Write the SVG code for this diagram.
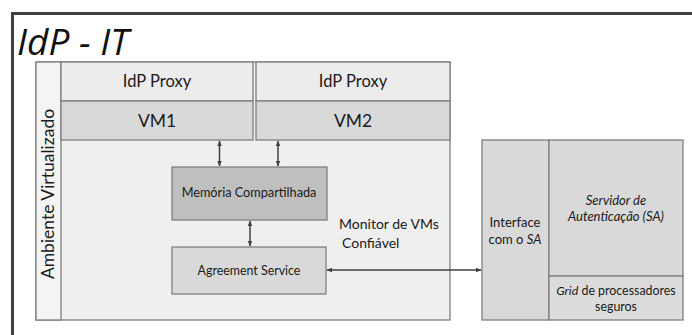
<svg xmlns="http://www.w3.org/2000/svg" width="692" height="335" viewBox="0 0 692 335">
<style>
.t{font-family:"Lato","Open Sans","Liberation Sans",sans-serif;fill:#1a1a1a;text-anchor:middle}
.s{text-anchor:start}
.box{stroke:#7f7f7f;stroke-width:1.3}
.ar{stroke:#404040;stroke-width:1.5;fill:none;marker-start:url(#ah);marker-end:url(#ah)}
</style>
<defs>
<marker id="ah" viewBox="0 0 10 10" refX="9" refY="5" markerWidth="6" markerHeight="6" orient="auto-start-reverse" markerUnits="userSpaceOnUse">
<path d="M0,1 L10,5 L0,9 z" fill="#404040"/>
</marker>
</defs>
<rect width="692" height="335" fill="#ffffff"/>
<g id="frame">
<path d="M12.5,340 V13.5 H700" fill="none" stroke="#404040" stroke-width="3"/>
<text x="17" y="55" font-family="'Open Sans',Lato,sans-serif" font-style="italic" font-size="37" fill="#111">IdP - IT</text>
</g>
<g id="ambiente">
<rect class="box" x="36" y="62" width="414" height="258" fill="#efefef"/>
<rect class="box" x="36" y="62" width="25" height="258" fill="#f4f4f4"/>
<text class="t" font-size="17.5" transform="translate(54,194) rotate(-90)">Ambiente Virtualizado</text>
<text class="t s" font-size="14" x="339" y="229">Monitor de VMs</text>
<text class="t s" font-size="14" x="342" y="248">Confiável</text>
</g>
<g id="vm1">
<rect class="box" x="61" y="62" width="192" height="39" fill="#ececec"/>
<rect class="box" x="61" y="101" width="192" height="39" fill="#d9d9d9"/>
<text class="t" font-size="16.5" x="157" y="87">IdP Proxy</text>
<text class="t" font-size="17.5" x="157" y="127">VM1</text>
</g>
<g id="vm2">
<rect class="box" x="256" y="62" width="194" height="39" fill="#ececec"/>
<rect class="box" x="256" y="101" width="194" height="39" fill="#d9d9d9"/>
<text class="t" font-size="16.5" x="353" y="87">IdP Proxy</text>
<text class="t" font-size="17.5" x="353" y="127">VM2</text>
</g>
<g id="memoria">
<rect class="box" x="172" y="167" width="155" height="53" fill="#bfbfbf"/>
<text class="t" font-size="12.7" x="249" y="197">Memória Compartilhada</text>
</g>
<g id="agreement">
<rect class="box" x="172" y="247" width="154" height="47" fill="#d9d9d9"/>
<text class="t" font-size="12.4" x="249" y="275">Agreement Service</text>
</g>
<g id="interface">
<rect class="box" x="482" y="140" width="67" height="180" fill="#d9d9d9"/>
<text class="t" font-size="13" x="515" y="227">Interface</text>
<text class="t" font-size="13" x="515" y="244">com o <tspan font-style="italic">SA</tspan></text>
</g>
<g id="servidor">
<rect class="box" x="549" y="140" width="134" height="136" fill="#d9d9d9"/>
<text class="t" font-size="13" font-style="italic" x="616" y="205">Servidor de</text>
<text class="t" font-size="13" font-style="italic" x="616" y="221">Autenticação (SA)</text>
</g>
<g id="grid">
<rect class="box" x="549" y="276" width="134" height="44" fill="#dcdcdc"/>
<text class="t" font-size="12.4" x="616" y="295"><tspan font-style="italic">Grid</tspan> de processadores</text>
<text class="t" font-size="12.4" x="616" y="311">seguros</text>
</g>
<g id="connectors">
<line class="ar" x1="219.5" y1="141" x2="219.5" y2="166"/>
<line class="ar" x1="278" y1="141" x2="278" y2="166"/>
<line class="ar" x1="250" y1="221" x2="250" y2="246"/>
<line class="ar" x1="327" y1="270" x2="481" y2="270"/>
</g>
</svg>
